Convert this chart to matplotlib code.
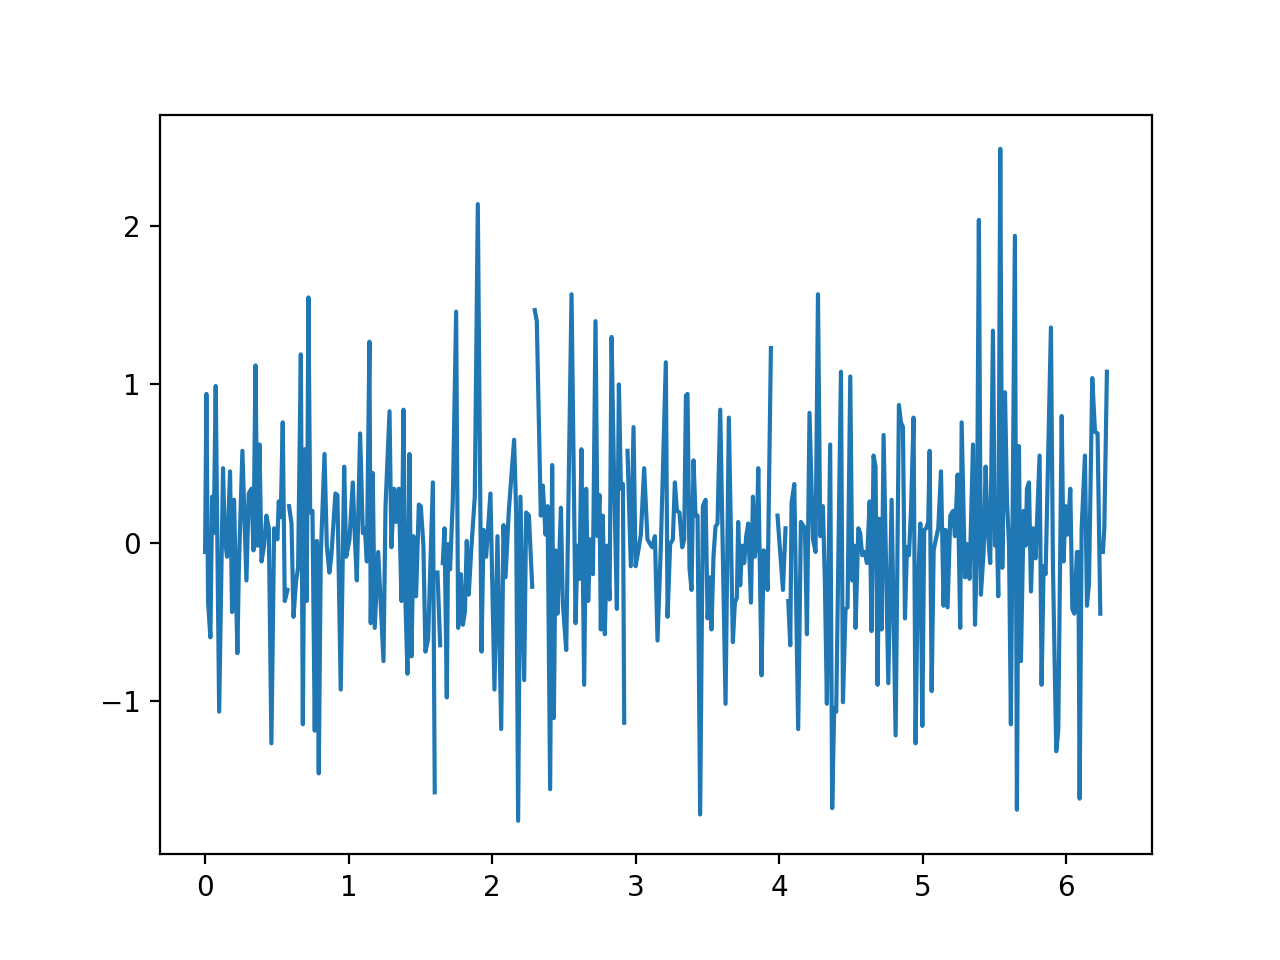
import numpy as np
import matplotlib
matplotlib.use('Agg')
import matplotlib.pyplot as plt

nan = np.nan

# x positions
x = [
    0.000, 0.009, 0.021, 0.037, 0.049, 0.060, 0.074, 0.098, 0.125, 0.137, 0.153, 0.174, 0.188, 0.202,
    0.225, 0.235, 0.260, 0.288, 0.304, 0.323, 0.337, 0.351, 0.365, 0.379, 0.393, 0.411, 0.427, 0.444,
    0.462, 0.481, 0.504,
    0.513, 0.527, 0.541, 0.555, 0.574, 0.580, 0.585, 0.602, 0.616, 0.634, 0.648, 0.667, 0.681, 0.695,
    0.708, 0.720, 0.732, 0.748, 0.764, 0.778, 0.792, 0.806, 0.832, 0.848, 0.866, 0.880, 0.908, 0.922,
    0.945, 0.969, 0.983, 1.006,
    1.029, 1.043, 1.057, 1.080, 1.099, 1.113, 1.127, 1.145, 1.154, 1.168, 1.182, 1.206, 1.243, 1.257,
    1.285, 1.298, 1.317, 1.331, 1.350, 1.368, 1.382, 1.396, 1.410, 1.424, 1.438, 1.452, 1.470, 1.489,
    1.503, 1.521, 1.535, 1.554,
    1.573, 1.587, 1.600, 1.610, 1.619, 1.638, 1.647, 1.656, 1.668, 1.684, 1.693, 1.707, 1.726, 1.749,
    1.763, 1.782, 1.796, 1.810, 1.823, 1.837, 1.854, 1.879, 1.900, 1.926, 1.940, 1.958, 1.988, 2.016,
    2.037, 2.063, 2.079,
    2.093, 2.116, 2.153, 2.167, 2.181, 2.197, 2.223, 2.237, 2.256, 2.279, 2.288, 2.297, 2.311, 2.339,
    2.353, 2.372, 2.386, 2.404, 2.418, 2.430, 2.441, 2.455, 2.469, 2.479, 2.492, 2.516, 2.553, 2.581,
    2.595, 2.608, 2.622,
    2.641, 2.655, 2.669, 2.683, 2.702, 2.720, 2.734, 2.748, 2.757, 2.771, 2.785, 2.799, 2.818, 2.832,
    2.850, 2.869, 2.883, 2.897, 2.911, 2.920, 2.930, 2.943, 2.966, 2.985, 2.999, 3.017, 3.036, 3.059,
    3.082, 3.101, 3.115, 3.134, 3.152,
    3.175, 3.210, 3.222, 3.240, 3.259, 3.273, 3.287, 3.305, 3.324, 3.338, 3.350, 3.361, 3.375, 3.389,
    3.403, 3.417, 3.431, 3.449, 3.468, 3.487, 3.501, 3.515, 3.528, 3.542, 3.556, 3.570, 3.589, 3.626,
    3.649, 3.677,
    3.691, 3.705, 3.714, 3.728, 3.742, 3.756, 3.770, 3.784, 3.803, 3.817, 3.830, 3.844, 3.854, 3.877,
    3.891, 3.905, 3.919, 3.942, 3.965, 3.988, 4.026, 4.044, 4.053, 4.063, 4.077, 4.086, 4.105, 4.132,
    4.151, 4.165, 4.179, 4.193, 4.211,
    4.235, 4.253, 4.270, 4.286, 4.304, 4.318, 4.332, 4.355, 4.369, 4.383, 4.397, 4.430, 4.444, 4.462,
    4.476, 4.495, 4.509, 4.523, 4.532, 4.551, 4.564, 4.578, 4.597, 4.611, 4.630, 4.643, 4.657, 4.671,
    4.685, 4.699, 4.713, 4.727,
    4.760, 4.783, 4.811, 4.834, 4.848, 4.862, 4.876, 4.890, 4.904, 4.918, 4.936, 4.950, 4.964, 4.983,
    4.997, 5.010, 5.024, 5.038, 5.048, 5.062, 5.076, 5.089, 5.108, 5.127, 5.145, 5.159, 5.173, 5.192,
    5.211, 5.224, 5.243, 5.261, 5.271,
    5.294, 5.308, 5.326, 5.350, 5.364, 5.377, 5.391, 5.405, 5.424, 5.438, 5.452, 5.470, 5.489, 5.503,
    5.517, 5.526, 5.540, 5.554, 5.573, 5.587, 5.601, 5.614, 5.642, 5.656, 5.670, 5.684, 5.703, 5.717,
    5.726, 5.740, 5.754, 5.768, 5.786,
    5.814, 5.828, 5.842, 5.856, 5.893, 5.907, 5.930, 5.944, 5.968, 5.981, 5.995, 6.009, 6.028, 6.042,
    6.056, 6.074, 6.084, 6.093, 6.107, 6.130, 6.144, 6.158, 6.181, 6.200, 6.218, 6.237, 6.246, 6.255,
    6.265, 6.283,
]

# y values, nan where the line is broken
y = [
    -0.06, 0.94, -0.38, -0.60, 0.29, 0.06, 0.99, -1.07, 0.47, 0.03, -0.09, 0.45, -0.44, 0.27,
    -0.70, -0.17, 0.58, -0.24, 0.31, 0.34, -0.05, 1.12, -0.02, 0.62, -0.12, -0.02, 0.17, 0.09,
    -1.27, 0.09, 0.02,
    0.26, 0.16, 0.76, -0.37, -0.30, nan, 0.23, 0.12, -0.47, -0.24, -0.16, 1.19, -1.15, 0.59,
    -0.37, 1.55, 0.19, 0.20, -1.19, 0.01, -1.46, -0.08, 0.56, -0.02, -0.19, -0.08, 0.31, 0.30,
    -0.93, 0.48, -0.09, 0.02,
    0.38, 0.04, -0.24, 0.69, 0.06, 0.09, -0.12, 1.27, -0.51, 0.44, -0.54, -0.06, -0.75, 0.23,
    0.83, -0.03, 0.34, 0.13, 0.34, -0.37, 0.84, -0.38, -0.83, 0.56, -0.72, 0.04, -0.34, 0.24,
    0.23, -0.02, -0.69, -0.61,
    -0.05, 0.38, -1.58, nan, -0.19, -0.65, nan, -0.13, 0.09, -0.98, -0.01, -0.17, 0.27, 1.46,
    -0.54, -0.20, -0.52, -0.44, 0.01, -0.33, -0.05, 0.29, 2.14, -0.69, 0.08, -0.09, 0.31, -0.93,
    0.04, -1.18, 0.11,
    -0.22, 0.20, 0.65, 0.20, -1.76, 0.29, -0.87, 0.19, 0.17, -0.28, nan, 1.47, 1.40, 0.17,
    0.36, 0.05, 0.23, -1.56, 0.49, -1.11, -0.05, -0.45, -0.06, 0.22, -0.38, -0.68, 1.57, -0.51,
    -0.02, -0.23, 0.59,
    -0.90, 0.34, -0.37, 0.02, -0.20, 1.40, 0.04, 0.30, -0.55, 0.17, -0.58, -0.02, -0.36, 1.30,
    0.37, -0.42, 1.00, 0.34, 0.37, -1.14, nan, 0.58, -0.15, 0.73, -0.15, -0.06, 0.05, 0.47,
    0.02, -0.01, -0.03, 0.04, -0.62,
    -0.03, 1.14, -0.47, -0.01, 0.02, 0.38, 0.20, 0.19, -0.03, 0.02, 0.93, 0.94, -0.16, -0.30,
    0.52, 0.17, 0.17, -1.72, 0.23, 0.27, -0.48, -0.22, -0.55, -0.09, 0.10, 0.12, 0.84, -1.02,
    0.79, -0.63,
    -0.38, -0.35, 0.13, -0.27, -0.02, -0.13, 0.04, 0.12, -0.38, 0.29, -0.09, 0.04, 0.47, -0.84,
    -0.05, -0.06, -0.30, 1.23, nan, 0.17, -0.30, 0.09, nan, -0.37, -0.65, 0.25, 0.37, -1.18,
    0.13, 0.11, 0.09, -0.58, 0.82,
    0.02, -0.06, 1.57, 0.04, 0.23, -0.24, -1.02, 0.62, -1.68, -1.05, -1.07, 1.08, -1.01, -0.42,
    -0.41, 1.05, -0.24, -0.02, -0.54, 0.09, 0.06, -0.08, -0.06, -0.13, 0.26, -0.56, 0.55, 0.48,
    -0.90, 0.15, -0.55, 0.68,
    -0.89, 0.27, -1.22, 0.87, 0.76, 0.73, -0.48, -0.03, -0.08, 0.20, 0.79, -1.27, -0.33, 0.12,
    -1.16, 0.08, 0.09, 0.13, 0.58, -0.94, -0.05, 0.01, 0.09, 0.45, -0.40, 0.08, -0.41, 0.17,
    0.20, 0.04, 0.43, -0.54, 0.76,
    -0.22, -0.01, -0.23, 0.62, -0.52, -0.05, 2.04, -0.33, -0.06, 0.48, 0.08, -0.13, 1.34, -0.02,
    0.05, -0.34, 2.49, -0.16, 0.95, 0.26, -0.02, -1.15, 1.94, -1.69, 0.61, -0.75, 0.20, -0.02,
    0.34, 0.38, -0.31, 0.09, -0.10,
    0.55, -0.90, -0.15, -0.20, 1.36, -0.15, -1.32, -1.19, 0.80, -0.12, 0.23, 0.05, 0.34, -0.42,
    -0.45, -0.06, -0.06, -1.62, 0.09, 0.55, -0.40, -0.26, 1.04, 0.70, 0.69, -0.45, nan, -0.06,
    0.09, 1.08,
]

fig, ax = plt.subplots(figsize=(6.4, 4.8), dpi=200)
ax.plot(x, y)

plt.savefig('out.png', dpi=200)
